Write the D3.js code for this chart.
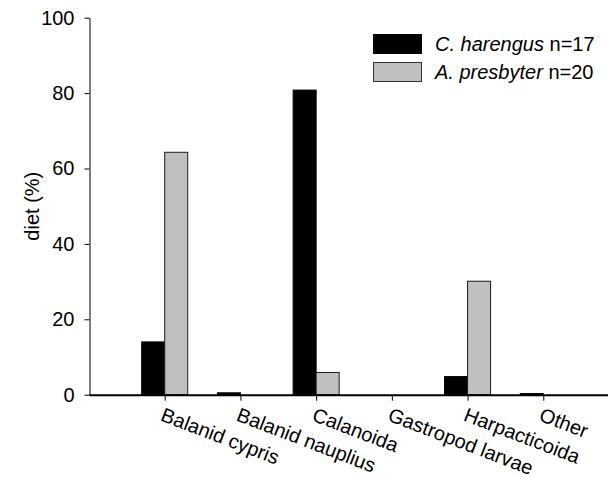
<!DOCTYPE html>
<html>
<head>
<meta charset="utf-8">
<script src="https://cdn.jsdelivr.net/npm/d3@7"></script>
<style>
  html, body { margin: 0; padding: 0; background: #fff; }
  text { font-family: "Liberation Sans", Arial, sans-serif; }
</style>
</head>
<body>
<svg id="chart" width="608" height="477"></svg>
<script>
const categories = ["Balanid cypris", "Balanid nauplius", "Calanoida", "Gastropod larvae", "Harpacticoida", "Other"];
const harengus = [14.0, 0.5, 80.8, 0, 4.8, 0.3];
const presbyter = [64.3, 0, 5.9, 0, 30.1, 0];
const yTicks = [0, 20, 40, 60, 80, 100];
const seriesNames = ["C. harengus", "A. presbyter"];
const seriesN = [" n=17", " n=20"];

const svg = d3.select("#chart");
const fontSize = 20;

const y = d3.scaleLinear().domain([0, 100]).range([394.7, 17.7]);
const x = d3.scaleLinear().domain([0, 7]).range([89, 619]);
const barW = x(0.304) - x(0);

// bars
const series = [
  { values: harengus, fill: "#000000", stroke: "#000000", offset: -1 },
  { values: presbyter, fill: "#c0c0c0", stroke: "#1a1a1a", offset: 0 }
];
series.forEach(s => {
  svg.append("g").selectAll("rect")
    .data(s.values.map((v, i) => ({ v, i })).filter(d => d.v > 0))
    .join("rect")
    .attr("x", d => x(d.i + 1) + s.offset * barW)
    .attr("y", d => y(d.v))
    .attr("width", barW)
    .attr("height", d => y(0) - y(d.v))
    .attr("fill", s.fill)
    .attr("stroke", s.stroke)
    .attr("stroke-width", 1);
});

// y axis
const yAxis = d3.axisLeft(y).tickValues(yTicks).tickSize(5).tickPadding(10).tickSizeOuter(0);
const gy = svg.append("g").attr("transform", "translate(89.5,0)").call(yAxis);
gy.selectAll("text").attr("font-size", fontSize).attr("fill", "#000").attr("font-family", "Liberation Sans, Arial, sans-serif");
gy.select(".domain").attr("stroke", "#000");
gy.selectAll(".tick line").attr("stroke", "#000");

// x axis
const xAxis = d3.axisBottom(x).tickValues(d3.range(1, categories.length + 1)).tickSize(6).tickSizeOuter(0).tickFormat(() => "");
const gx = svg.append("g").attr("transform", `translate(0,${y(0)})`).call(xAxis);
gx.select(".domain").attr("stroke", "#000").attr("stroke-width", 2);
gx.selectAll(".tick line").attr("stroke", "#000");

// x labels rotated
svg.append("g").selectAll("text")
  .data(categories)
  .join("text")
  .attr("transform", (d, i) => `translate(${x(i + 1)},${y(0) + 12}) rotate(21)`)
  .attr("text-anchor", "start")
  .attr("dominant-baseline", "hanging")
  .attr("font-size", fontSize)
  .attr("fill", "#000")
  .text(d => d);

// y label
svg.append("text")
  .attr("transform", `translate(32,${(y(0) + y(100)) / 2}) rotate(-90)`)
  .attr("text-anchor", "middle")
  .attr("dominant-baseline", "central")
  .attr("font-size", fontSize)
  .attr("fill", "#000")
  .text("diet (%)");

// legend
const legendColors = [["#000000", "#000000"], ["#c0c0c0", "#333333"]];
const lg = svg.append("g");
seriesNames.forEach((name, i) => {
  const top = 34 + i * 28;
  lg.append("rect")
    .attr("x", 373.5).attr("y", top + 0.5)
    .attr("width", 48).attr("height", 19)
    .attr("fill", legendColors[i][0]).attr("stroke", legendColors[i][1]);
  const t = lg.append("text")
    .attr("x", 435).attr("y", top + 17)
    .attr("font-size", fontSize).attr("fill", "#000");
  t.append("tspan").attr("font-style", "italic").text(name);
  t.append("tspan").text(seriesN[i]);
});
</script>
</body>
</html>
